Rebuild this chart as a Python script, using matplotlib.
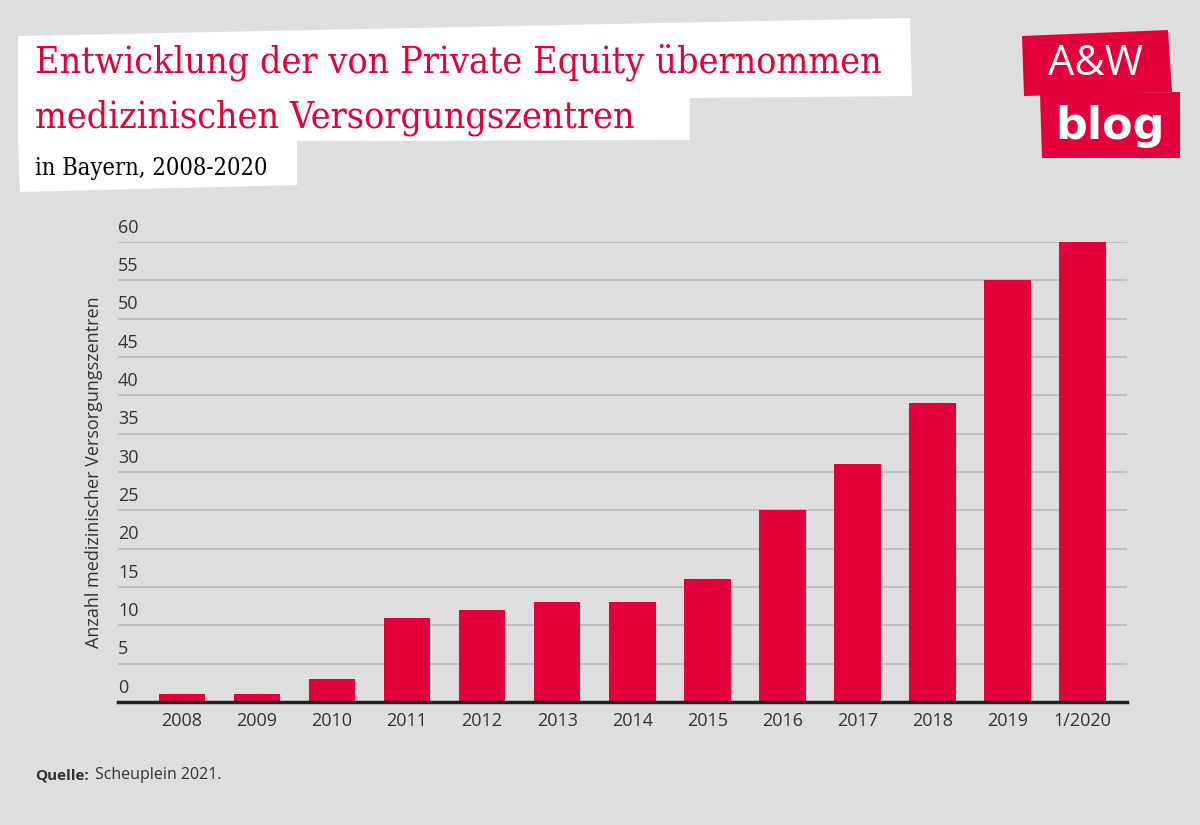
import matplotlib.pyplot as plt
from matplotlib.patches import Polygon

years = ["2008", "2009", "2010", "2011", "2012", "2013", "2014",
         "2015", "2016", "2017", "2018", "2019", "1/2020"]
mvz_count = [1, 1, 3, 11, 12, 13, 13, 16, 25, 31, 39, 55, 60]
y_ticks = [0, 5, 10, 15, 20, 25, 30, 35, 40, 45, 50, 55, 60]

red = "#e4003a"
bg = "#dedede"
txt = "#333333"

fig = plt.figure(figsize=(12, 8.25), dpi=100, facecolor=bg)

# title boxes (white, slightly skewed like the original)
W, H = 1200, 825
def px(points):
    return [(x / W, 1 - y / H) for x, y in points]

fig.patches.append(Polygon(px([(18, 36), (910, 18), (912, 96), (690, 98), (690, 140), (18, 142)]),
                           closed=True, transform=fig.transFigure, fc="white", ec="none"))
fig.patches.append(Polygon(px([(18, 140), (297, 140), (297, 185), (20, 192)]),
                           closed=True, transform=fig.transFigure, fc="white", ec="none"))

fig.text(35 / W, 1 - 62 / H, "Entwicklung der von Private Equity übernommen",
         color=red, fontsize=27, family="DejaVu Serif", fontstretch="condensed", va="center")
fig.text(35 / W, 1 - 118 / H, "medizinischen Versorgungszentren",
         color=red, fontsize=27, family="DejaVu Serif", fontstretch="condensed", va="center")
fig.text(35 / W, 1 - 168 / H, "in Bayern, 2008-2020",
         color="black", fontsize=17, family="DejaVu Serif", fontstretch="condensed", va="center")

# logo
fig.patches.append(Polygon(px([(1022, 36), (1168, 30), (1172, 92), (1024, 96)]),
                           closed=True, transform=fig.transFigure, fc=red, ec="none"))
fig.patches.append(Polygon(px([(1040, 94), (1180, 92), (1180, 158), (1042, 158)]),
                           closed=True, transform=fig.transFigure, fc=red, ec="none"))
fig.text(1095 / W, 1 - 64 / H, "A&W", color="white", fontsize=30, family="Open Sans",
         ha="center", va="center")
fig.text(1110 / W, 1 - 126 / H, "blog", color="white", fontsize=32, weight="bold",
         family="DejaVu Sans", ha="center", va="center")

ax = fig.add_axes([118 / W, 1 - 702 / H, (1127 - 118) / W, (702 - 242) / H])
ax.set_facecolor(bg)
x = range(len(years))
ax.bar(x, mvz_count, width=0.62, color=red, zorder=3)
ax.set_xlim(-0.85, len(years) - 1 + 0.59)
ax.set_ylim(0, 60)
ax.set_xticks(list(x))
ax.set_xticklabels(years, fontsize=13, color=txt, family="Open Sans")
ax.tick_params(axis="x", length=0, pad=7)
ax.set_yticks(y_ticks)
ax.set_yticklabels([])
ax.tick_params(axis="y", length=0)
for t in y_ticks:
    if t > 0:
        ax.axhline(t, color="#b9b9b9", lw=1.2, zorder=1)
    ax.text(0, t + 0.7, str(t), transform=ax.get_yaxis_transform(), fontsize=13,
            color=txt, family="Open Sans", va="bottom", ha="left")
for s in ["top", "right", "left"]:
    ax.spines[s].set_visible(False)
ax.spines["bottom"].set_color("#222222")
ax.spines["bottom"].set_linewidth(2.5)
ax.spines["bottom"].set_zorder(4)
ax.set_ylabel("Anzahl medizinischer Versorgungszentren", fontsize=13, color=txt,
              family="Open Sans", labelpad=7)

fig.text(35 / W, 1 - 775 / H, "Quelle:", fontsize=11, weight="bold", color=txt,
         family="Open Sans", va="center")
fig.text(95 / W, 1 - 775 / H, "Scheuplein 2021.", fontsize=11.5, color=txt,
         family="Open Sans", va="center")

fig.savefig("out.png", dpi=100, facecolor=bg)
